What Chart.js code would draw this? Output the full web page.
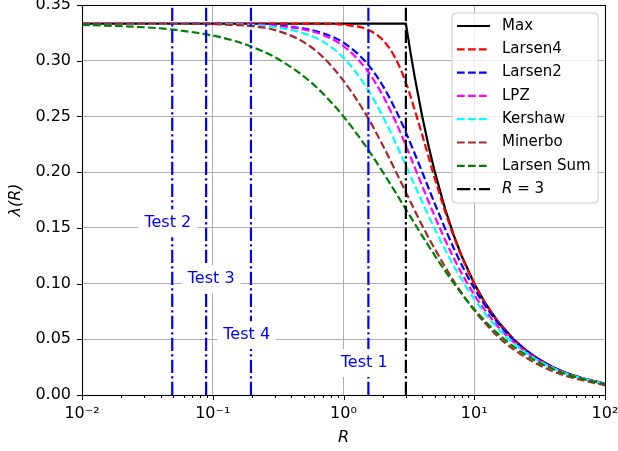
<!DOCTYPE html>
<html><head><meta charset="utf-8">
<script src="https://cdn.jsdelivr.net/npm/chart.js@4.4.1/dist/chart.umd.min.js"></script>
<style>html,body{margin:0;padding:0;background:#fff}#wrap{width:618px;height:451px}</style>
</head><body><div id="wrap"><canvas id="c" width="618" height="451"></canvas></div>
<script>
// ---- data ----
const R = [0.01, 0.03, 0.05, 0.1, 0.15, 0.2, 0.3, 0.5, 0.7, 1, 1.5, 2, 2.5, 3, 4, 5, 7, 10, 15, 20, 30, 50, 100];
const maxR = [0.01, 3, 3.25, 3.5, 4, 4.5, 5, 6, 7, 8, 10, 12, 15, 20, 25, 30, 40, 50, 70, 100];
const maxVals = [0.33333, 0.33333, 0.30769, 0.28571, 0.25, 0.22222, 0.2, 0.16667, 0.14286, 0.125, 0.1, 0.08333, 0.06667, 0.05, 0.04, 0.03333, 0.025, 0.02, 0.01429, 0.01];
const larsen4 = [0.33333, 0.33333, 0.33333, 0.33333, 0.33333, 0.33333, 0.33333, 0.33327, 0.33309, 0.33231, 0.32832, 0.31864, 0.30210, 0.28030, 0.23340, 0.19400, 0.14168, 0.09980, 0.06664, 0.04999, 0.03333, 0.02000, 0.01000];
const larsen2 = [0.33333, 0.33332, 0.33329, 0.33315, 0.33292, 0.33259, 0.33168, 0.32880, 0.32461, 0.31623, 0.29814, 0.27735, 0.25607, 0.23570, 0.20000, 0.17150, 0.13131, 0.09578, 0.06537, 0.04945, 0.03317, 0.01996, 0.00999];
const lpz = [0.33333, 0.33331, 0.33328, 0.33311, 0.33283, 0.33245, 0.33135, 0.32791, 0.32293, 0.31304, 0.29208, 0.26866, 0.24543, 0.22388, 0.18767, 0.16002, 0.12245, 0.09000, 0.06222, 0.04750, 0.03222, 0.01960, 0.00990];
const kershaw = [0.33333, 0.33330, 0.33324, 0.33296, 0.33250, 0.33187, 0.33006, 0.32456, 0.31693, 0.30278, 0.27614, 0.25000, 0.22648, 0.20601, 0.17325, 0.14881, 0.11549, 0.08612, 0.06033, 0.04639, 0.03171, 0.01941, 0.00985];
const minerbo = [0.3333, 0.3333, 0.3332, 0.3328, 0.3320, 0.3310, 0.3275, 0.3165, 0.3030, 0.2820, 0.2510, 0.2240, 0.2010, 0.1820, 0.1520, 0.1310, 0.1020, 0.0760, 0.0530, 0.0410, 0.0280, 0.0172, 0.0087];
const larsenSum = [0.33223, 0.33003, 0.32787, 0.32258, 0.31746, 0.31250, 0.30303, 0.28571, 0.27027, 0.25000, 0.22222, 0.20000, 0.18182, 0.16667, 0.14286, 0.12500, 0.10000, 0.07692, 0.05556, 0.04348, 0.03030, 0.01887, 0.00971];
const cutR = 3;
const testNames = ['Test 1', 'Test 2', 'Test 3', 'Test 4'];
const testR = [1.55, 0.049, 0.089, 0.196];
const testLabelR = [1.44, 0.0453, 0.0973, 0.1818];
const testLabelY = [0.0296, 0.1550, 0.1047, 0.0547];
const yTickValues = [0, 0.05, 0.10, 0.15, 0.20, 0.25, 0.30, 0.35];
const xDecades = [0.01, 0.1, 1, 10, 100];
const xDecadeLabels = ['10⁻²', '10⁻¹', '10⁰', '10¹', '10²'];

// ---- chart ----
const FONT = 'DejaVu Sans';
Chart.defaults.font.family = FONT;
Chart.defaults.color = '#000';
const DASH = [7.7, 3.3];
const DASHDOT = [13.3, 3.3, 2.1, 3.3];
const pts = (xs, ys) => xs.map((v, i) => ({x: v, y: ys[i]}));
const vline = r => [{x: r, y: 0}, {x: r, y: 0.35}];

const series = [
  {label: 'Max', data: pts(maxR, maxVals), color: '#000000', dash: [], tension: 0},
  {label: 'Larsen4', data: pts(R, larsen4), color: '#ff0000', dash: DASH},
  {label: 'Larsen2', data: pts(R, larsen2), color: '#0000ff', dash: DASH},
  {label: 'LPZ', data: pts(R, lpz), color: '#ff00ff', dash: DASH},
  {label: 'Kershaw', data: pts(R, kershaw), color: '#00ffff', dash: DASH},
  {label: 'Minerbo', data: pts(R, minerbo), color: '#a52a2a', dash: DASH},
  {label: 'Larsen Sum', data: pts(R, larsenSum), color: '#008000', dash: DASH},
  {label: 'R = 3', data: vline(cutR), color: '#000000', dash: DASHDOT, tension: 0, legendItalicR: true},
];
testNames.forEach((n, i) => series.push({label: n, data: vline(testR[i]), color: '#0000ff', dash: DASHDOT, tension: 0, hidden: true}));

const N = series.length;
const datasets = series.map((s, i) => ({
  label: s.label,
  data: s.data,
  borderColor: s.color,
  backgroundColor: s.color,
  borderDash: s.dash,
  borderWidth: 2.2,
  pointRadius: 0,
  fill: false,
  cubicInterpolationMode: s.tension === 0 ? 'default' : 'monotone',
  tension: 0,
  order: N - i,
  inLegend: !s.hidden,
  italicR: !!s.legendItalicR,
}));

function isMajor(v) { const l = Math.log10(v); return Math.abs(l - Math.round(l)) < 1e-6; }

const extras = {
  id: 'extras',
  afterDatasetsDraw(chart) {
    const {ctx, scales: {x, y}} = chart;
    ctx.save();
    ctx.font = '16px "' + FONT + '"';
    ctx.textAlign = 'center';
    ctx.textBaseline = 'middle';
    testNames.forEach((t, i) => {
      const px = x.getPixelForValue(testLabelR[i]);
      const py = y.getPixelForValue(testLabelY[i]);
      const w = ctx.measureText(t).width;
      ctx.fillStyle = '#ffffff';
      ctx.fillRect(px - w / 2 - 6, py - 13, w + 12, 28);
      ctx.fillStyle = '#0000ff';
      ctx.fillText(t, px, py + 1);
    });
    ctx.restore();
  },
  afterDraw(chart) {
    const {ctx, chartArea: a, scales: {x, y}} = chart;
    ctx.save();
    // frame
    ctx.strokeStyle = '#000';
    ctx.lineWidth = 1.1;
    ctx.strokeRect(Math.round(a.left) + 0.5, Math.round(a.top) + 0.5, Math.round(a.right - a.left), Math.round(a.bottom - a.top));
    // tick marks
    ctx.beginPath();
    x.ticks.forEach(t => {
      const px = Math.round(x.getPixelForValue(t.value)) + 0.5;
      const len = isMajor(t.value) ? 5 : 3;
      ctx.moveTo(px, a.bottom); ctx.lineTo(px, a.bottom + len);
    });
    y.ticks.forEach(t => {
      const py = Math.round(y.getPixelForValue(t.value)) + 0.5;
      ctx.moveTo(a.left, py); ctx.lineTo(a.left - 5, py);
    });
    ctx.lineWidth = 1;
    ctx.stroke();
    // legend
    const items = chart.data.datasets.filter(d => d.inLegend);
    const bx = 452, by = 13, bw = 146, bh = 190, rr = 4;
    ctx.beginPath();
    ctx.moveTo(bx + rr, by);
    ctx.arcTo(bx + bw, by, bx + bw, by + bh, rr);
    ctx.arcTo(bx + bw, by + bh, bx, by + bh, rr);
    ctx.arcTo(bx, by + bh, bx, by, rr);
    ctx.arcTo(bx, by, bx + bw, by, rr);
    ctx.closePath();
    ctx.fillStyle = 'rgba(255,255,255,0.8)';
    ctx.fill();
    ctx.strokeStyle = '#cccccc';
    ctx.lineWidth = 1;
    ctx.stroke();
    ctx.textBaseline = 'middle';
    ctx.textAlign = 'left';
    items.forEach((d, i) => {
      const cy = 26 + i * 23.3;
      ctx.beginPath();
      ctx.setLineDash(d.borderDash);
      ctx.strokeStyle = d.borderColor;
      ctx.lineWidth = 2.2;
      ctx.moveTo(457, cy); ctx.lineTo(490, cy);
      ctx.stroke();
      ctx.setLineDash([]);
      ctx.fillStyle = '#000';
      if (d.italicR) {
        ctx.font = 'italic 15px "' + FONT + '"';
        ctx.fillText('R', 502, cy);
        const w = ctx.measureText('R').width;
        ctx.font = '15px "' + FONT + '"';
        ctx.fillText(' = 3', 502 + w, cy);
      } else {
        ctx.font = '15px "' + FONT + '"';
        ctx.fillText(d.label, 502, cy);
      }
    });
    ctx.restore();
  }
};

new Chart(document.getElementById('c'), {
  type: 'line',
  data: {datasets},
  plugins: [extras],
  options: {
    responsive: false,
    animation: false,
    devicePixelRatio: 1,
    events: [],
    layout: {padding: {top: 5, right: 13, left: 0, bottom: 0}},
    plugins: {legend: {display: false}, tooltip: {enabled: false}},
    scales: {
      x: {
        type: 'logarithmic',
        min: 0.01, max: 100,
        afterBuildTicks: s => {
          const t = [];
          for (let e = -2; e <= 1; e++) for (let m = 1; m <= 9; m++) t.push({value: +(m * Math.pow(10, e)).toPrecision(6)});
          t.push({value: 100});
          s.ticks = t;
        },
        afterFit: s => { s.height = 56; s.paddingLeft = 0; s.paddingRight = 0; },
        grid: {
          color: c => (c.tick && isMajor(c.tick.value)) ? '#b0b0b0' : 'rgba(0,0,0,0)',
          lineWidth: 1,
          drawTicks: false,
        },
        border: {display: false},
        ticks: {
          autoSkip: false, maxRotation: 0, padding: 9,
          font: {size: 16},
          callback: v => { const k = xDecades.findIndex(d => Math.abs(d - v) / d < 1e-6); return k >= 0 ? xDecadeLabels[k] : ''; }
        },
        title: {display: true, text: 'R', font: {size: 16, style: 'italic'}, padding: {top: 0, bottom: 4}}
      },
      y: {
        type: 'linear',
        min: 0, max: 0.35,
        afterBuildTicks: s => { s.ticks = yTickValues.map(v => ({value: v})); },
        afterFit: s => { s.width = 82; s.paddingTop = 0; s.paddingBottom = 0; },
        grid: {color: '#b0b0b0', lineWidth: 1, drawTicks: false},
        border: {display: false},
        ticks: {padding: 11, font: {size: 16}, callback: v => Number(v).toFixed(2)},
        title: {display: true, text: 'λ(R)', font: {size: 16, style: 'italic'}, padding: {top: 6, bottom: 0}}
      }
    }
  }
});
</script>
</body></html>
